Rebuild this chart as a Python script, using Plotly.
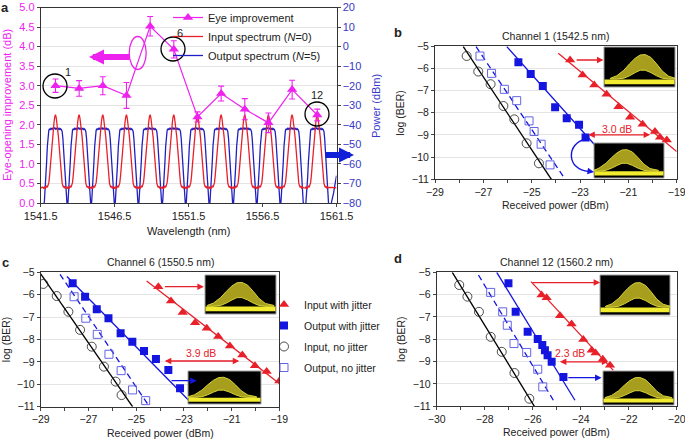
import plotly.graph_objects as go

W, H = 685, 439
FONT = "Liberation Sans, Arial, sans-serif"
MAG = "#ee22ee"
RED = "#e8202a"
BLUE = "#1515e0"
BLUE_SPEC = "#2020c0"
LBLUE = "#6464e4"
AXIS_BLUE = "#3838c8"
GRID = "#e4e4e4"

# ---------------- Panel a data ----------------
channel_nm = [1542.5, 1544.1, 1545.7, 1547.3, 1548.9, 1550.5,
              1552.1, 1553.7, 1555.3, 1556.9, 1558.5, 1560.2]
eye_improvement_db = [3.00, 2.93, 3.00, 2.75, 4.52, 3.93, 2.20, 2.80, 2.40, 2.05, 2.90, 2.25]
eye_error_db = [0.17, 0.20, 0.23, 0.33, 0.25, 0.22, 0.13, 0.19, 0.27, 0.25, 0.24, 0.15]
wavelength_ticks = [1541.5, 1546.5, 1551.5, 1556.5, 1561.5]

# one channel period of each spectrum (offset from channel centre in nm)
period_offset_nm = [-0.80, -0.75, -0.70, -0.65, -0.60, -0.55, -0.50, -0.45, -0.40, -0.35,
                    -0.30, -0.25, -0.20, -0.15, -0.10, -0.05, 0.00, 0.05, 0.10, 0.15,
                    0.20, 0.25, 0.30, 0.35, 0.40, 0.45, 0.50, 0.55, 0.60, 0.65, 0.70, 0.75]
input_profile_dbm = [-72.4, -71.6, -72.8, -72.0, -71.2, -72.0, -71.0, -69.6, -66.0, -61.0,
                     -55.5, -50.4, -45.8, -42.0, -38.8, -36.0, -34.8, -36.4, -39.2, -42.4,
                     -46.2, -51.0, -56.0, -61.8, -66.6, -69.8, -71.2, -72.0, -71.4, -72.6,
                     -71.8, -72.2]
output_profile_dbm = [-83.0, -79.0, -74.0, -67.0, -59.0, -51.0, -45.6, -42.8, -42.0, -42.6,
                      -41.8, -42.2, -41.6, -42.4, -42.0, -41.4, -42.2, -41.8, -42.4, -41.6,
                      -42.2, -41.8, -42.6, -42.0, -42.4, -43.4, -47.0, -53.0, -61.0, -69.0,
                      -75.0, -79.6]
input_edges_x = [[1541.5, 1541.6], [1561.0, 1561.5]]
input_edges_y = [[-72.4, -71.8], [-72.0, -72.2]]
output_edges_x = [[1541.5], [1561.0, 1561.3, 1561.5]]
output_edges_y = [[-85.0], [-85.0, -75.0, -66.0]]

# ---------------- Panels b, c, d data ----------------
b_in_jit_x = [-23.41, -22.89, -22.41, -21.90, -21.41, -20.93, -20.41, -19.90, -19.69, -19.41]
b_in_jit_y = [-5.63, -6.30, -6.75, -7.17, -7.73, -8.21, -8.52, -8.85, -9.11, -9.23]
b_out_jit_x = [-25.55, -25.04, -24.54, -24.03, -23.55, -23.04, -22.77]
b_out_jit_y = [-5.73, -6.26, -6.80, -7.76, -8.25, -8.55, -9.12]
b_in_nojit_x = [-27.69, -27.21, -26.70, -26.17, -25.72, -25.21, -24.70]
b_in_nojit_y = [-5.45, -6.15, -6.72, -7.70, -8.30, -9.38, -10.28]
b_out_nojit_x = [-27.14, -26.66, -26.13, -25.62, -25.11, -24.90, -24.61, -24.24]
b_out_nojit_y = [-5.45, -6.23, -6.95, -7.46, -8.37, -8.85, -9.42, -10.35]
b_fit_in_jit = ([-23.9, -19.0], [-5.33, -9.75])
b_fit_out_jit = ([-26.03, -22.0], [-5.03, -9.93])
b_fit_in_nojit = ([-27.83, -24.17], [-5.03, -11.03])
b_fit_out_nojit = ([-27.3, -23.69], [-5.03, -10.88])

c_in_jit_x = [-24.07, -23.54, -23.05, -22.53, -22.04, -21.56, -21.07, -20.55, -20.02, -19.53, -19.00]
c_in_jit_y = [-5.64, -6.28, -6.80, -7.25, -7.50, -7.87, -8.29, -8.69, -9.17, -9.43, -9.85]
c_out_jit_x = [-27.66, -27.14, -26.65, -26.16, -25.65, -25.16, -24.67, -24.17, -23.65, -23.16]
c_out_jit_y = [-5.49, -6.09, -6.65, -7.05, -7.72, -8.10, -8.51, -8.87, -9.36, -10.18]
c_in_nojit_x = [-28.89, -28.33, -27.84, -27.35, -26.86, -26.35, -25.86, -25.61]
c_in_nojit_y = [-5.52, -6.06, -6.76, -7.57, -8.32, -9.21, -9.88, -10.48]
c_out_nojit_x = [-27.60, -27.11, -26.63, -26.14, -25.63, -25.15, -24.60]
c_out_nojit_y = [-6.09, -7.05, -7.77, -8.66, -9.39, -10.25, -10.73]
c_fit_in_jit = ([-24.56, -19.0], [-5.39, -9.96])
c_fit_out_jit = ([-27.9, -22.81], [-5.19, -10.7])
c_fit_in_nojit = ([-29.0, -25.15], [-5.07, -11.0])
c_fit_out_nojit = ([-28.19, -24.49], [-5.09, -10.92])

d_in_jit_x = [-25.63, -25.42, -24.86, -24.38, -23.89, -23.54, -23.38, -23.08, -22.78]
d_in_jit_y = [-6.02, -6.14, -6.95, -7.32, -8.01, -8.49, -8.61, -8.89, -9.16]
d_out_jit_x = [-27.01, -26.71, -26.21, -25.79, -25.60, -25.49, -25.38, -25.21, -24.72]
d_out_jit_y = [-5.49, -6.77, -7.66, -7.99, -8.26, -8.49, -8.71, -9.01, -9.69]
d_in_nojit_x = [-29.06, -28.72, -28.24, -27.75, -27.29, -26.76, -26.14]
d_in_nojit_y = [-5.57, -6.09, -6.77, -7.89, -8.56, -9.51, -10.66]
d_out_nojit_x = [-27.75, -27.25, -27.06, -26.78, -26.25, -25.79, -25.58]
d_out_nojit_y = [-5.90, -6.77, -7.37, -8.19, -8.59, -9.34, -10.13]
d_fit_in_jit = ([-26.07, -22.64], [-5.42, -9.39])
d_fit_out_jit = ([-27.5, -24.24], [-5.0, -10.73])
d_fit_in_nojit = ([-29.35, -25.93], [-5.0, -11.0])
d_fit_out_nojit = ([-28.26, -25.14], [-5.12, -10.73])

legend_names = ["Input with jitter", "Output with jitter", "Input, no jitter", "Output, no jitter"]
panel_titles = ["Channel 1 (1542.5 nm)", "Channel 6 (1550.5 nm)", "Channel 12 (1560.2 nm)"]
gain_labels = ["3.0 dB", "3.9 dB", "2.3 dB"]


def px2paper(x, y):
    return x / W, 1 - y / H


fig = go.Figure()

# ---- panel a spectra (base axis y = power) ----
in_x, in_y = list(input_edges_x[0]), list(input_edges_y[0])
out_x, out_y = list(output_edges_x[0]), list(output_edges_y[0])
for c in channel_nm:
    for d, vi, vo in zip(period_offset_nm, input_profile_dbm, output_profile_dbm):
        in_x.append(c + d); in_y.append(vi)
        out_x.append(c + d); out_y.append(vo)
in_x += input_edges_x[1]; in_y += input_edges_y[1]
out_x += output_edges_x[1]; out_y += output_edges_y[1]

fig.add_trace(go.Scatter(x=out_x, y=out_y, mode="lines", line=dict(color=BLUE_SPEC, width=1.3),
                         name="Output spectrum (<i>N</i>=5)", xaxis="x", yaxis="y",
                         legend="legend", legendrank=3))
fig.add_trace(go.Scatter(x=in_x, y=in_y, mode="lines", line=dict(color=RED, width=1.3),
                         name="Input spectrum (<i>N</i>=0)", xaxis="x", yaxis="y",
                         legend="legend", legendrank=2))
fig.add_trace(go.Scatter(x=channel_nm, y=eye_improvement_db, mode="lines+markers",
                         error_y=dict(type="data", array=eye_error_db, color=MAG, thickness=1.1, width=3),
                         marker=dict(symbol="triangle-up", size=9, color=MAG),
                         line=dict(color=MAG, width=1.2), name="Eye improvement",
                         xaxis="x", yaxis="y2", legend="legend", legendrank=1))

# ---- panels b, c, d ----
panels = [
    ("x3", "y3", (b_in_jit_x, b_in_jit_y), (b_out_jit_x, b_out_jit_y), (b_in_nojit_x, b_in_nojit_y),
     (b_out_nojit_x, b_out_nojit_y), b_fit_in_jit, b_fit_out_jit, b_fit_in_nojit, b_fit_out_nojit),
    ("x4", "y4", (c_in_jit_x, c_in_jit_y), (c_out_jit_x, c_out_jit_y), (c_in_nojit_x, c_in_nojit_y),
     (c_out_nojit_x, c_out_nojit_y), c_fit_in_jit, c_fit_out_jit, c_fit_in_nojit, c_fit_out_nojit),
    ("x5", "y5", (d_in_jit_x, d_in_jit_y), (d_out_jit_x, d_out_jit_y), (d_in_nojit_x, d_in_nojit_y),
     (d_out_nojit_x, d_out_nojit_y), d_fit_in_jit, d_fit_out_jit, d_fit_in_nojit, d_fit_out_nojit),
]
fit_styles = [dict(color=RED, width=1.3), dict(color=BLUE, width=1.3),
              dict(color="black", width=1.3), dict(color=BLUE, width=1.3, dash="6px,4px")]
marker_styles = [
    dict(symbol="triangle-up", size=9, color=RED),
    dict(symbol="square", size=8, color=BLUE),
    dict(symbol="circle-open", size=9, color="#222", line=dict(width=0.8)),
    dict(symbol="square-open", size=8, color=LBLUE, line=dict(width=1)),
]
for pi, p in enumerate(panels):
    xa, ya = p[0], p[1]
    for k in range(4):
        fx, fy = p[6 + k]
        fig.add_trace(go.Scatter(x=fx, y=fy, mode="lines", line=fit_styles[k], xaxis=xa, yaxis=ya,
                                 showlegend=False, hoverinfo="skip"))
    for k in range(4):
        mx, my = p[2 + k]
        show = (pi == 1)
        fig.add_trace(go.Scatter(x=mx, y=my, mode="markers", marker=marker_styles[k], xaxis=xa, yaxis=ya,
                                 name=legend_names[k], showlegend=show, legend="legend2",
                                 legendgroup=legend_names[k], legendrank=k + 1))

# ---------------- layout / axes ----------------
def xdom(l, r):
    return [l / W, r / W]


def ydom(t, b):
    return [1 - b / H, 1 - t / H]


common_tick = dict(ticks="outside", ticklen=3, tickwidth=1, showline=True, linecolor="#333",
                   linewidth=1, zeroline=False, ticklabeloverflow="allow",
                   tickfont=dict(size=10.5, color="#222", family=FONT))

layout = dict(
    width=W, height=H, margin=dict(l=0, r=0, t=0, b=0, autoexpand=False),
    paper_bgcolor="white", plot_bgcolor="white",
    font=dict(family=FONT, size=11, color="#222"),
    xaxis=dict(domain=xdom(40.7, 336.5), range=[1541.5, 1561.5], tickvals=wavelength_ticks,
               ticktext=[f"{v:.1f}" for v in wavelength_ticks], anchor="y", mirror=True,
               showgrid=False, **{k: v for k, v in common_tick.items() if k != "tickfont"},
               tickfont=dict(size=11, color="#222")),
    yaxis=dict(domain=ydom(7.5, 203), range=[-80, 20], dtick=10, side="right", anchor="x",
               showgrid=True, gridcolor=GRID, ticks="outside", ticklen=3, showline=True,
               linecolor="#333", zeroline=False, tickfont=dict(size=11, color=AXIS_BLUE)),
    yaxis2=dict(overlaying="y", range=[0, 5], dtick=0.5, tickformat=".1f", side="left", anchor="x",
                showgrid=False, ticks="outside", ticklen=3, showline=True, linecolor="#333",
                zeroline=False, tickfont=dict(size=11, color=MAG)),
    legend=dict(x=168 / W, y=1 - 3 / H, xanchor="left", yanchor="top", bgcolor="rgba(0,0,0,0)",
                font=dict(size=11), itemwidth=30, tracegroupgap=0),
    legend2=dict(x=264 / W, y=1 - 290 / H, xanchor="left", yanchor="top", bgcolor="rgba(0,0,0,0)",
                 font=dict(size=10.5), itemwidth=30, tracegroupgap=2),
)
panel_geo = {
    "3": (435, 676.7, 46, 179.3, [-29, -19]),
    "4": (40.7, 279.3, 272.3, 406.7, [-29, -19]),
    "5": (436.7, 676.7, 272.3, 406.3, [-30, -20]),
}
for key, (l, r, t, b, xr) in panel_geo.items():
    layout["xaxis" + key] = dict(domain=xdom(l, r), range=xr, tick0=xr[0], dtick=2, anchor="y" + key,
                                 mirror=True, showgrid=False,
                                 minor=dict(dtick=1, tick0=xr[0], ticks="outside", ticklen=3),
                                 **common_tick)
    layout["yaxis" + key] = dict(domain=ydom(t, b), range=[-11, -5], dtick=1, anchor="x" + key,
                                 mirror=True, showgrid=True, gridcolor=GRID, **common_tick)
fig.update_layout(**layout)

# ---------------- annotations ----------------
ann = []


def text_px(x, y, s, size=11, color="#222", angle=0, bold=False, xanchor="center"):
    px_, py_ = px2paper(x, y)
    ann.append(dict(x=px_, y=py_, xref="paper", yref="paper", text=(f"<b>{s}</b>" if bold else s),
                    showarrow=False, font=dict(size=size, color=color), textangle=angle,
                    xanchor=xanchor, yanchor="middle"))


text_px(5, 8, "a", size=13, bold=True)
text_px(398, 32, "b", size=13, bold=True)
text_px(5, 262, "c", size=13, bold=True)
text_px(398, 258, "d", size=13, bold=True)
text_px(7, 105, "Eye-opening improvement (dB)", color=MAG, angle=-90)
text_px(376, 106, "Power (dBm)", color=AXIS_BLUE, angle=-90)
text_px(188, 231, "Wavelength (nm)")
text_px(68, 72, "1")
text_px(180, 33, "6")
text_px(317, 95, "12")
for (l, r, t, b, xr), title in zip(panel_geo.values(), panel_titles):
    text_px((l + r) / 2, t - 10, title, size=10.5)
    text_px((l + r) / 2, b + 26, "Received power (dBm)", size=10.5)
    text_px(l - 35, (t + b) / 2, "log (BER)", size=10.5, angle=-90)

# thick arrows in panel a
hx, hy = px2paper(89, 57)
ann.append(dict(x=hx, y=hy, xref="paper", yref="paper", ax=42, ay=0, showarrow=True, arrowhead=2,
                arrowsize=0.5, arrowwidth=6, arrowcolor=MAG, text=""))
hx, hy = px2paper(354, 155)
ann.append(dict(x=hx, y=hy, xref="paper", yref="paper", ax=-30, ay=0, showarrow=True, arrowhead=2,
                arrowsize=0.5, arrowwidth=6, arrowcolor="#1020d8", text=""))


def data_arrow(xa, ya, x0, x1, y, color, both=False):
    ann.append(dict(x=x1, y=y, ax=x0, ay=y, xref=xa, yref=ya, axref=xa, ayref=ya, showarrow=True,
                    arrowhead=2, arrowsize=1, arrowwidth=1.3, arrowcolor=color, text="",
                    arrowside="end+start" if both else "end", startarrowhead=2, startarrowsize=1))


# b
data_arrow("x3", "y3", -23.2, -22.03, -5.63, RED)
data_arrow("x3", "y3", -22.72, -20.1, -9.0, RED, both=True)
ann.append(dict(x=-21.45, y=-8.72, xref="x3", yref="y3", text=gain_labels[0], showarrow=False,
                font=dict(size=10.5, color=RED)))
# c
data_arrow("x4", "y4", -23.86, -22.16, -5.64, RED)
data_arrow("x4", "y4", -23.86, -20.68, -8.96, RED, both=True)
data_arrow("x4", "y4", -23.58, -22.46, -9.84, BLUE)
ann.append(dict(x=-22.3, y=-8.62, xref="x4", yref="y4", text=gain_labels[1], showarrow=False,
                font=dict(size=10.5, color=RED)))
# d
data_arrow("x5", "y5", -26.07, -23.19, -5.46, RED)
data_arrow("x5", "y5", -24.93, -22.85, -9.01, RED, both=True)
data_arrow("x5", "y5", -24.58, -23.13, -9.72, BLUE)
ann.append(dict(x=-24.45, y=-8.6, xref="x5", yref="y5", text=gain_labels[2], showarrow=False,
                font=dict(size=10.5, color=RED)))
# curved blue arrow head in b
hx, hy = px2paper(594, 172)
ann.append(dict(x=hx, y=hy, xref="paper", yref="paper", ax=-7, ay=-1, showarrow=True, arrowhead=2,
                arrowsize=1, arrowwidth=1.3, arrowcolor=BLUE, text=""))
fig.update_layout(annotations=ann)

# ---------------- shapes ----------------
shapes = []


def circle_px(cx, cy, rx, ry, color, width=1.3):
    x0, y0 = px2paper(cx - rx, cy + ry)
    x1, y1 = px2paper(cx + rx, cy - ry)
    shapes.append(dict(type="circle", xref="paper", yref="paper", x0=x0, y0=y0, x1=x1, y1=y1,
                       line=dict(color=color, width=width), layer="above"))


circle_px(55, 86, 12, 12, "black")
circle_px(173, 49, 12, 12, "black")
circle_px(317, 114, 12, 12, "black")
circle_px(137.7, 53, 8.5, 16.5, MAG)

# curved arrow path in b
pts = [px2paper(586, 139), px2paper(566, 143), px2paper(566, 170), px2paper(589, 171.5)]
shapes.append(dict(type="path", xref="paper", yref="paper", layer="above",
                   path="M{:.5f},{:.5f} C{:.5f},{:.5f} {:.5f},{:.5f} {:.5f},{:.5f}".format(
                       pts[0][0], pts[0][1], pts[1][0], pts[1][1], pts[2][0], pts[2][1], pts[3][0], pts[3][1]),
                   line=dict(color=BLUE, width=1.4)))

# eye-diagram insets (decorative)
eye_u = [0.03, 0.12, 0.22, 0.30, 0.38, 0.45, 0.52, 0.60, 0.68, 0.76, 0.85, 0.97]
eye_top = [0.22, 0.28, 0.42, 0.58, 0.72, 0.80, 0.81, 0.74, 0.58, 0.40, 0.27, 0.22]
eye_bot = [0.20, 0.20, 0.22, 0.28, 0.36, 0.42, 0.42, 0.36, 0.28, 0.22, 0.20, 0.20]
insets = [(604, 47, 675, 87, 0.06), (594, 143, 664, 178, -0.05), (205, 275, 276, 314, 0.0),
          (188, 371, 261, 404, -0.03), (600, 275, 670, 315, 0.05), (603, 371, 674, 405, 0.0)]
for (l, t, r, b, shift) in insets:
    x0, y0 = px2paper(l, b)
    x1, y1 = px2paper(r, t)
    shapes.append(dict(type="rect", xref="paper", yref="paper", x0=x0, y0=y0, x1=x1, y1=y1,
                       fillcolor="black", line=dict(width=1, color="#a0a0a0"), layer="above"))

    def P(u, v):
        xx = x0 + (x1 - x0) * min(max(u + shift, 0.0), 1.0)
        yy = y0 + (y1 - y0) * v
        return f"{xx:.5f},{yy:.5f}"

    path = "M" + " L".join(P(u, v) for u, v in zip(eye_u, eye_top))
    path += " L" + " L".join(P(u, v) for u, v in zip(reversed(eye_u), reversed(eye_bot))) + " Z"
    shapes.append(dict(type="path", xref="paper", yref="paper", path=path, fillcolor="#b8b020",
                       opacity=0.9, line=dict(width=1, color="#f0ea40"), layer="above"))
    shapes.append(dict(type="rect", xref="paper", yref="paper", x0=x0 + 0.5 / W, x1=x1 - 0.5 / W,
                       y0=y0 + (y1 - y0) * 0.07, y1=y0 + (y1 - y0) * 0.19,
                       fillcolor="#f2ec30", line=dict(width=0), layer="above"))
fig.update_layout(shapes=shapes)

fig.write_html("out.html", config={"displayModeBar": False},
               post_script="document.body.style.margin='0px';document.body.style.overflow='hidden';")
